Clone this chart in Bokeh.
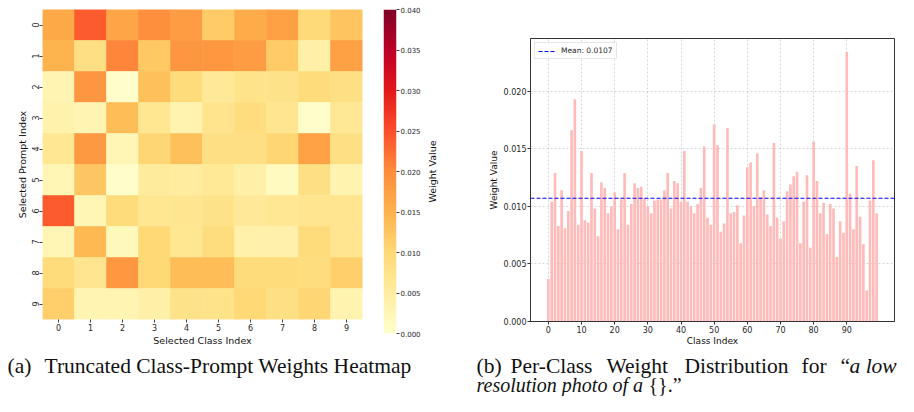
import numpy as np
from bokeh.plotting import figure
from bokeh.models import (Range1d, FactorRange, LinearColorMapper, FixedTicker,
                          NumeralTickFormatter, Legend, LegendItem, Label)
from bokeh.transform import linear_cmap
from bokeh.layouts import column, row
from bokeh.embed import file_html
from bokeh.resources import INLINE

# ---------------- data ----------------
class_labels = ["0", "1", "2", "3", "4", "5", "6", "7", "8", "9"]
prompt_labels = ["0", "1", "2", "3", "4", "5", "6", "7", "8", "9"]
# heatmap rows = selected prompt index, columns = selected class index
heat_values = [
    [0.0162, 0.0240, 0.0167, 0.0198, 0.0180, 0.0118, 0.0160, 0.0174, 0.0098, 0.0127],
    [0.0148, 0.0085, 0.0205, 0.0122, 0.0189, 0.0185, 0.0180, 0.0118, 0.0042, 0.0174],
    [0.0030, 0.0188, 0.0003, 0.0132, 0.0093, 0.0060, 0.0075, 0.0078, 0.0095, 0.0083],
    [0.0037, 0.0030, 0.0137, 0.0068, 0.0033, 0.0072, 0.0090, 0.0070, 0.0002, 0.0063],
    [0.0065, 0.0183, 0.0025, 0.0104, 0.0132, 0.0083, 0.0085, 0.0104, 0.0171, 0.0083],
    [0.0028, 0.0124, 0.0002, 0.0055, 0.0053, 0.0062, 0.0042, 0.0015, 0.0083, 0.0033],
    [0.0240, 0.0028, 0.0095, 0.0068, 0.0070, 0.0078, 0.0060, 0.0065, 0.0070, 0.0070],
    [0.0028, 0.0142, 0.0020, 0.0101, 0.0068, 0.0090, 0.0040, 0.0038, 0.0095, 0.0070],
    [0.0093, 0.0070, 0.0186, 0.0100, 0.0137, 0.0137, 0.0093, 0.0093, 0.0090, 0.0112],
    [0.0114, 0.0030, 0.0030, 0.0042, 0.0078, 0.0075, 0.0101, 0.0083, 0.0104, 0.0033],
]
colorbar_low = 0.0
colorbar_high = 0.04
colorbar_ticks = [0.0, 0.005, 0.010, 0.015, 0.020, 0.025, 0.030, 0.035, 0.040]

class_index = list(range(100))
class_weights = [
    0.0037, 0.0104, 0.0129, 0.0083, 0.0114, 0.0081, 0.0096, 0.0166, 0.0193, 0.0084,
    0.0148, 0.0088, 0.0086, 0.0129, 0.0098, 0.0074, 0.0121, 0.0116, 0.0094, 0.0100,
    0.0112, 0.0080, 0.0106, 0.0129, 0.0084, 0.0102, 0.0120, 0.0116, 0.0117, 0.0107,
    0.0100, 0.0094, 0.0105, 0.0106, 0.0106, 0.0114, 0.0129, 0.0098, 0.0122, 0.0120,
    0.0104, 0.0148, 0.0104, 0.0100, 0.0094, 0.0102, 0.0116, 0.0152, 0.0090, 0.0084,
    0.0171, 0.0153, 0.0078, 0.0085, 0.0168, 0.0094, 0.0095, 0.0101, 0.0068, 0.0092,
    0.0134, 0.0138, 0.0100, 0.0146, 0.0108, 0.0114, 0.0093, 0.0083, 0.0155, 0.0090,
    0.0072, 0.0087, 0.0113, 0.0119, 0.0126, 0.0130, 0.0068, 0.0104, 0.0127, 0.0064,
    0.0156, 0.0122, 0.0094, 0.0103, 0.0076, 0.0102, 0.0098, 0.0056, 0.0087, 0.0077,
    0.0234, 0.0111, 0.0080, 0.0135, 0.0091, 0.0067, 0.0027, 0.0105, 0.0140, 0.0094,
]
mean_weight = 0.0107
bar_x_ticks = [0, 10, 20, 30, 40, 50, 60, 70, 80, 90]
bar_y_ticks = [0.0, 0.005, 0.010, 0.015, 0.020]

# ---------------- styling helpers ----------------
FONT = "DejaVu Sans"
TXT = "#262626"
anchors = ['#ffffcc', '#ffeda0', '#fed976', '#feb24c', '#fd8d3c',
           '#fc4e2a', '#e31a1c', '#bd0026', '#800026']


def interp_palette(cols, n=256):
    rgb = np.array([[int(c[i:i + 2], 16) for i in (1, 3, 5)] for c in cols], dtype=float)
    pos = np.linspace(0, 1, len(cols))
    out = []
    for tt in np.linspace(0, 1, n):
        r, g, b = (np.interp(tt, pos, rgb[:, k]) for k in range(3))
        out.append("#%02x%02x%02x" % (int(round(r)), int(round(g)), int(round(b))))
    return out


def no_align(fig):
    try:
        fig.frame_align = False
    except Exception:
        pass


palette = interp_palette(anchors)
TOP_H = 348

# ---------------- heatmap ----------------
xs, ys, vs = [], [], []
for i, p_lab in enumerate(prompt_labels):
    for j, c_lab in enumerate(class_labels):
        xs.append(c_lab); ys.append(p_lab); vs.append(heat_values[i][j])

hm = figure(width=375, height=TOP_H, output_backend="svg", toolbar_location=None,
            x_range=FactorRange(*class_labels), y_range=FactorRange(*reversed(prompt_labels)),
            min_border_left=42, min_border_right=13, min_border_top=9, min_border_bottom=26)
no_align(hm)
cmap = linear_cmap("value", palette, colorbar_low, colorbar_high)
hm.rect(x="x", y="y", width=1, height=1, source=dict(x=xs, y=ys, value=vs),
        fill_color=cmap, line_color=cmap, line_width=0.6)
hm.outline_line_color = None
hm.grid.grid_line_color = None
for ax in (hm.xaxis[0], hm.yaxis[0]):
    ax.axis_line_color = None
    ax.major_tick_out = 3
    ax.major_tick_in = 0
    ax.major_tick_line_color = "#444444"
    ax.major_label_text_font = FONT
    ax.major_label_text_font_size = "8px"
    ax.major_label_text_color = TXT
    ax.axis_label_text_font = FONT
    ax.axis_label_text_font_size = "9.5px"
    ax.axis_label_text_font_style = "normal"
    ax.axis_label_text_color = "#111111"
    ax.major_label_standoff = 1
    ax.axis_label_standoff = 1
hm.xaxis.axis_label = "Selected Class Index"
hm.yaxis.axis_label = "Selected Prompt Index"
hm.yaxis.major_label_orientation = "vertical"

# ---------------- colorbar ----------------
CB_TOP, CB_BOTTOM = 9, 15
cb = figure(width=48, height=TOP_H, output_backend="svg", toolbar_location=None,
            x_range=Range1d(0, 1), y_range=Range1d(colorbar_low, colorbar_high),
            x_axis_location=None, y_axis_location="right",
            min_border_left=8, min_border_right=24, min_border_top=CB_TOP, min_border_bottom=CB_BOTTOM)
no_align(cb)
mapper = LinearColorMapper(palette=palette, low=colorbar_low, high=colorbar_high)
grad = np.linspace(colorbar_low, colorbar_high, 256).reshape(-1, 1)
cb.image(image=[grad], x=0, y=colorbar_low, dw=1, dh=colorbar_high - colorbar_low, color_mapper=mapper)
cb.outline_line_color = None
cb.grid.grid_line_color = None
cax = cb.yaxis[0]
cax.ticker = FixedTicker(ticks=colorbar_ticks)
cax.formatter = NumeralTickFormatter(format="0.000")
cax.axis_line_color = None
cax.major_tick_out = 3
cax.major_tick_in = 0
cax.minor_tick_line_color = None
cax.major_tick_line_color = "#444444"
cax.major_label_text_font = FONT
cax.major_label_text_font_size = "7px"
cax.major_label_text_color = TXT
cax.major_label_standoff = 1

# colorbar title, drawn as the axis label of a narrow companion panel
cbl = figure(width=21, height=TOP_H, output_backend="svg", toolbar_location=None,
             x_range=Range1d(0, 1), y_range=Range1d(colorbar_low, colorbar_high),
             x_axis_location=None, y_axis_location="left",
             min_border_left=8, min_border_right=0, min_border_top=CB_TOP, min_border_bottom=CB_BOTTOM)
no_align(cbl)
cbl.outline_line_color = None
cbl.grid.grid_line_color = None
lax = cbl.yaxis[0]
lax.ticker = FixedTicker(ticks=[])
lax.axis_line_color = None
lax.major_tick_line_color = None
lax.minor_tick_line_color = None
lax.major_label_text_font_size = "0px"
lax.major_label_standoff = 0
lax.axis_label = "Weight Value"
lax.axis_label_text_font = FONT
lax.axis_label_text_font_size = "9.5px"
lax.axis_label_text_font_style = "normal"
lax.axis_label_text_color = "#111111"
lax.axis_label_standoff = 0

# ---------------- bar chart ----------------
x_lo = min(class_index) - 0.4
x_hi = max(class_index) + 0.4
x_pad = 0.05 * (x_hi - x_lo)
x_start, x_end = x_lo - x_pad, x_hi + x_pad
y_end = max(class_weights) * 1.05

bp = figure(width=454, height=TOP_H, output_backend="svg", toolbar_location=None,
            x_range=Range1d(x_start, x_end), y_range=Range1d(0, y_end),
            min_border_left=86, min_border_right=4, min_border_top=38, min_border_bottom=24)
no_align(bp)
bp.vbar(x=class_index, top=class_weights, width=0.8, fill_color="#ffbaba", line_color=None)
mean_r = bp.line(x=[x_start, x_end], y=[mean_weight, mean_weight], line_color="#0000ff",
                 line_dash="4 2", line_width=1.2)
bp.outline_line_color = "#333333"
bp.outline_line_width = 1
bp.xaxis.ticker = FixedTicker(ticks=bar_x_ticks)
bp.yaxis.ticker = FixedTicker(ticks=bar_y_ticks)
bp.yaxis.formatter = NumeralTickFormatter(format="0.000")
for ax in (bp.xaxis[0], bp.yaxis[0]):
    ax.axis_line_color = "#333333"
    ax.major_tick_out = 3
    ax.major_tick_in = 0
    ax.minor_tick_line_color = None
    ax.major_tick_line_color = "#333333"
    ax.major_label_text_font = FONT
    ax.major_label_text_font_size = "8px"
    ax.major_label_text_color = TXT
    ax.major_label_standoff = 1
    ax.axis_label_text_font = FONT
    ax.axis_label_text_font_size = "9px"
    ax.axis_label_text_font_style = "normal"
    ax.axis_label_text_color = "#111111"
    ax.axis_label_standoff = 0
bp.xaxis.axis_label = "Class Index"
bp.yaxis.axis_label = "Weight Value"
bp.yaxis.axis_label_standoff = 2
bp.grid.grid_line_color = "#cccccc"
bp.grid.grid_line_dash = "2 2"
bp.grid.grid_line_width = 0.8
legend = Legend(items=[LegendItem(label="Mean: %.4f" % mean_weight, renderers=[mean_r])],
                location="top_left", margin=4, padding=3, spacing=0,
                glyph_width=18, glyph_height=8, label_height=8, label_standoff=5,
                label_text_font=FONT, label_text_font_size="7.5px", label_text_color=TXT,
                border_line_color="#d0d0d0", background_fill_alpha=0.9)
bp.add_layout(legend)

# ---------------- captions ----------------
CAP_W, CAP_H = 898, 48
cap = figure(width=CAP_W, height=CAP_H, output_backend="svg", toolbar_location=None,
             x_range=Range1d(0, CAP_W), y_range=Range1d(0, CAP_H),
             x_axis_location=None, y_axis_location=None, min_border=0)
no_align(cap)
cap.outline_line_color = None
cap.grid.grid_line_color = None
SERIF = "Liberation Serif"
mid1 = CAP_H - 17   # vertical centre of first caption line (from bottom)
mid2 = CAP_H - 36   # vertical centre of second caption line
caption_pieces = [
    ("(a)", 7, mid1, "normal", "21.5px"),
    ("Truncated Class-Prompt Weights Heatmap", 44, mid1, "normal", "21.5px"),
    ("(b)", 476, mid1, "normal", "21.5px"),
    ("Per-Class", 510, mid1, "normal", "21.5px"),
    ("Weight", 606, mid1, "normal", "21.5px"),
    ("Distribution", 684, mid1, "normal", "21.5px"),
    ("for", 801, mid1, "normal", "21.5px"),
    ("\u201c", 840, mid1, "normal", "21.5px"),
    ("a low", 849, mid1, "italic", "21.5px"),
    ("resolution photo of a", 476, mid2, "italic", "20px"),
    ("{}.\u201d", 648, mid2, "normal", "20px"),
]
for txt, px, py, style, fs in caption_pieces:
    cap.add_layout(Label(x=px, y=py, x_units="screen", y_units="screen", text=txt,
                         text_font=SERIF, text_font_size=fs, text_font_style=style,
                         text_color="#111111", text_baseline="middle", text_align="left"))

layout = column(row(hm, cb, cbl, bp), cap)
open("out.html", "w").write(file_html(layout, INLINE))
